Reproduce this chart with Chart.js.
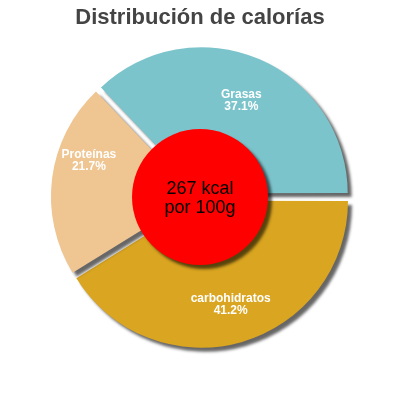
<!DOCTYPE html>
<html>
<head>
  <script src="https://cdn.jsdelivr.net/npm/chart.js@4"></script>
  <style>
    html, body { margin: 0; padding: 0; background: #fff; }
    #wrap { width: 400px; height: 400px; }
  </style>
</head>
<body>
<div id="wrap"><canvas id="c"></canvas></div>
<script>
  const titleText = 'Distribución de calorías';
  const labels = ['Grasas', 'carbohidratos', 'Proteínas'];
  const values = [37.1, 41.2, 21.7];
  const colors = ['#7cc4cc', '#daa520', '#efc592'];
  const centerLines = ['267 kcal', 'por 100g'];

  // shadows, red centre disc, labels and title
  const extras = {
    id: 'extras',
    beforeDatasetsDraw(chart) {
      const ctx = chart.ctx;
      ctx.save();
      ctx.shadowColor = 'rgba(0,0,0,0.6)';
      ctx.shadowOffsetX = 4;
      ctx.shadowOffsetY = 4;
      ctx.shadowBlur = 3;
    },
    afterDatasetsDraw(chart) {
      const ctx = chart.ctx;
      ctx.restore();
      const arcs = chart.getDatasetMeta(0).data;
      const cx = arcs[0].x, cy = arcs[0].y;
      // red disc
      ctx.save();
      ctx.shadowColor = 'rgba(0,0,0,0.6)';
      ctx.shadowOffsetX = 4;
      ctx.shadowOffsetY = 4;
      ctx.shadowBlur = 3;
      ctx.beginPath();
      ctx.arc(cx, cy, 68, 0, Math.PI * 2);
      ctx.fillStyle = '#ff0000';
      ctx.fill();
      ctx.restore();
      ctx.fillStyle = '#000';
      ctx.font = '18px "Liberation Sans", Arial, sans-serif';
      ctx.textAlign = 'center';
      ctx.textBaseline = 'middle';
      ctx.fillText(centerLines[0], cx, cy - 8);
      ctx.fillText(centerLines[1], cx, cy + 11);
      // slice labels
      ctx.fillStyle = '#fff';
      ctx.font = 'bold 12px "Liberation Sans", Arial, sans-serif';
      arcs.forEach((a, i) => {
        const mid = (a.startAngle + a.endAngle) / 2;
        const r = [105, 112, 112][i];
        const x = a.x + Math.cos(mid) * r;
        const y = a.y + Math.sin(mid) * r - (i === 2 ? 22 : 0);
        ctx.fillText(labels[i], x, y - 6);
        ctx.fillText(values[i].toFixed(1) + '%', x, y + 6);
      });
      // title
      ctx.fillStyle = '#444';
      ctx.font = 'bold 22px "Liberation Sans", Arial, sans-serif';
      ctx.fillText(titleText, 200, 18);
    }
  };

  new Chart(document.getElementById('c'), {
    type: 'pie',
    data: {
      labels: labels,
      datasets: [{
        data: values,
        backgroundColor: colors,
        borderWidth: 0,
        offset: 16
      }]
    },
    options: {
      responsive: true,
      maintainAspectRatio: false,
      animation: false,
      rotation: -43.6,
      layout: { padding: { top: 44, bottom: 50 } },
      plugins: { legend: { display: false }, tooltip: { enabled: false } }
    },
    plugins: [extras]
  });
</script>
</body>
</html>
